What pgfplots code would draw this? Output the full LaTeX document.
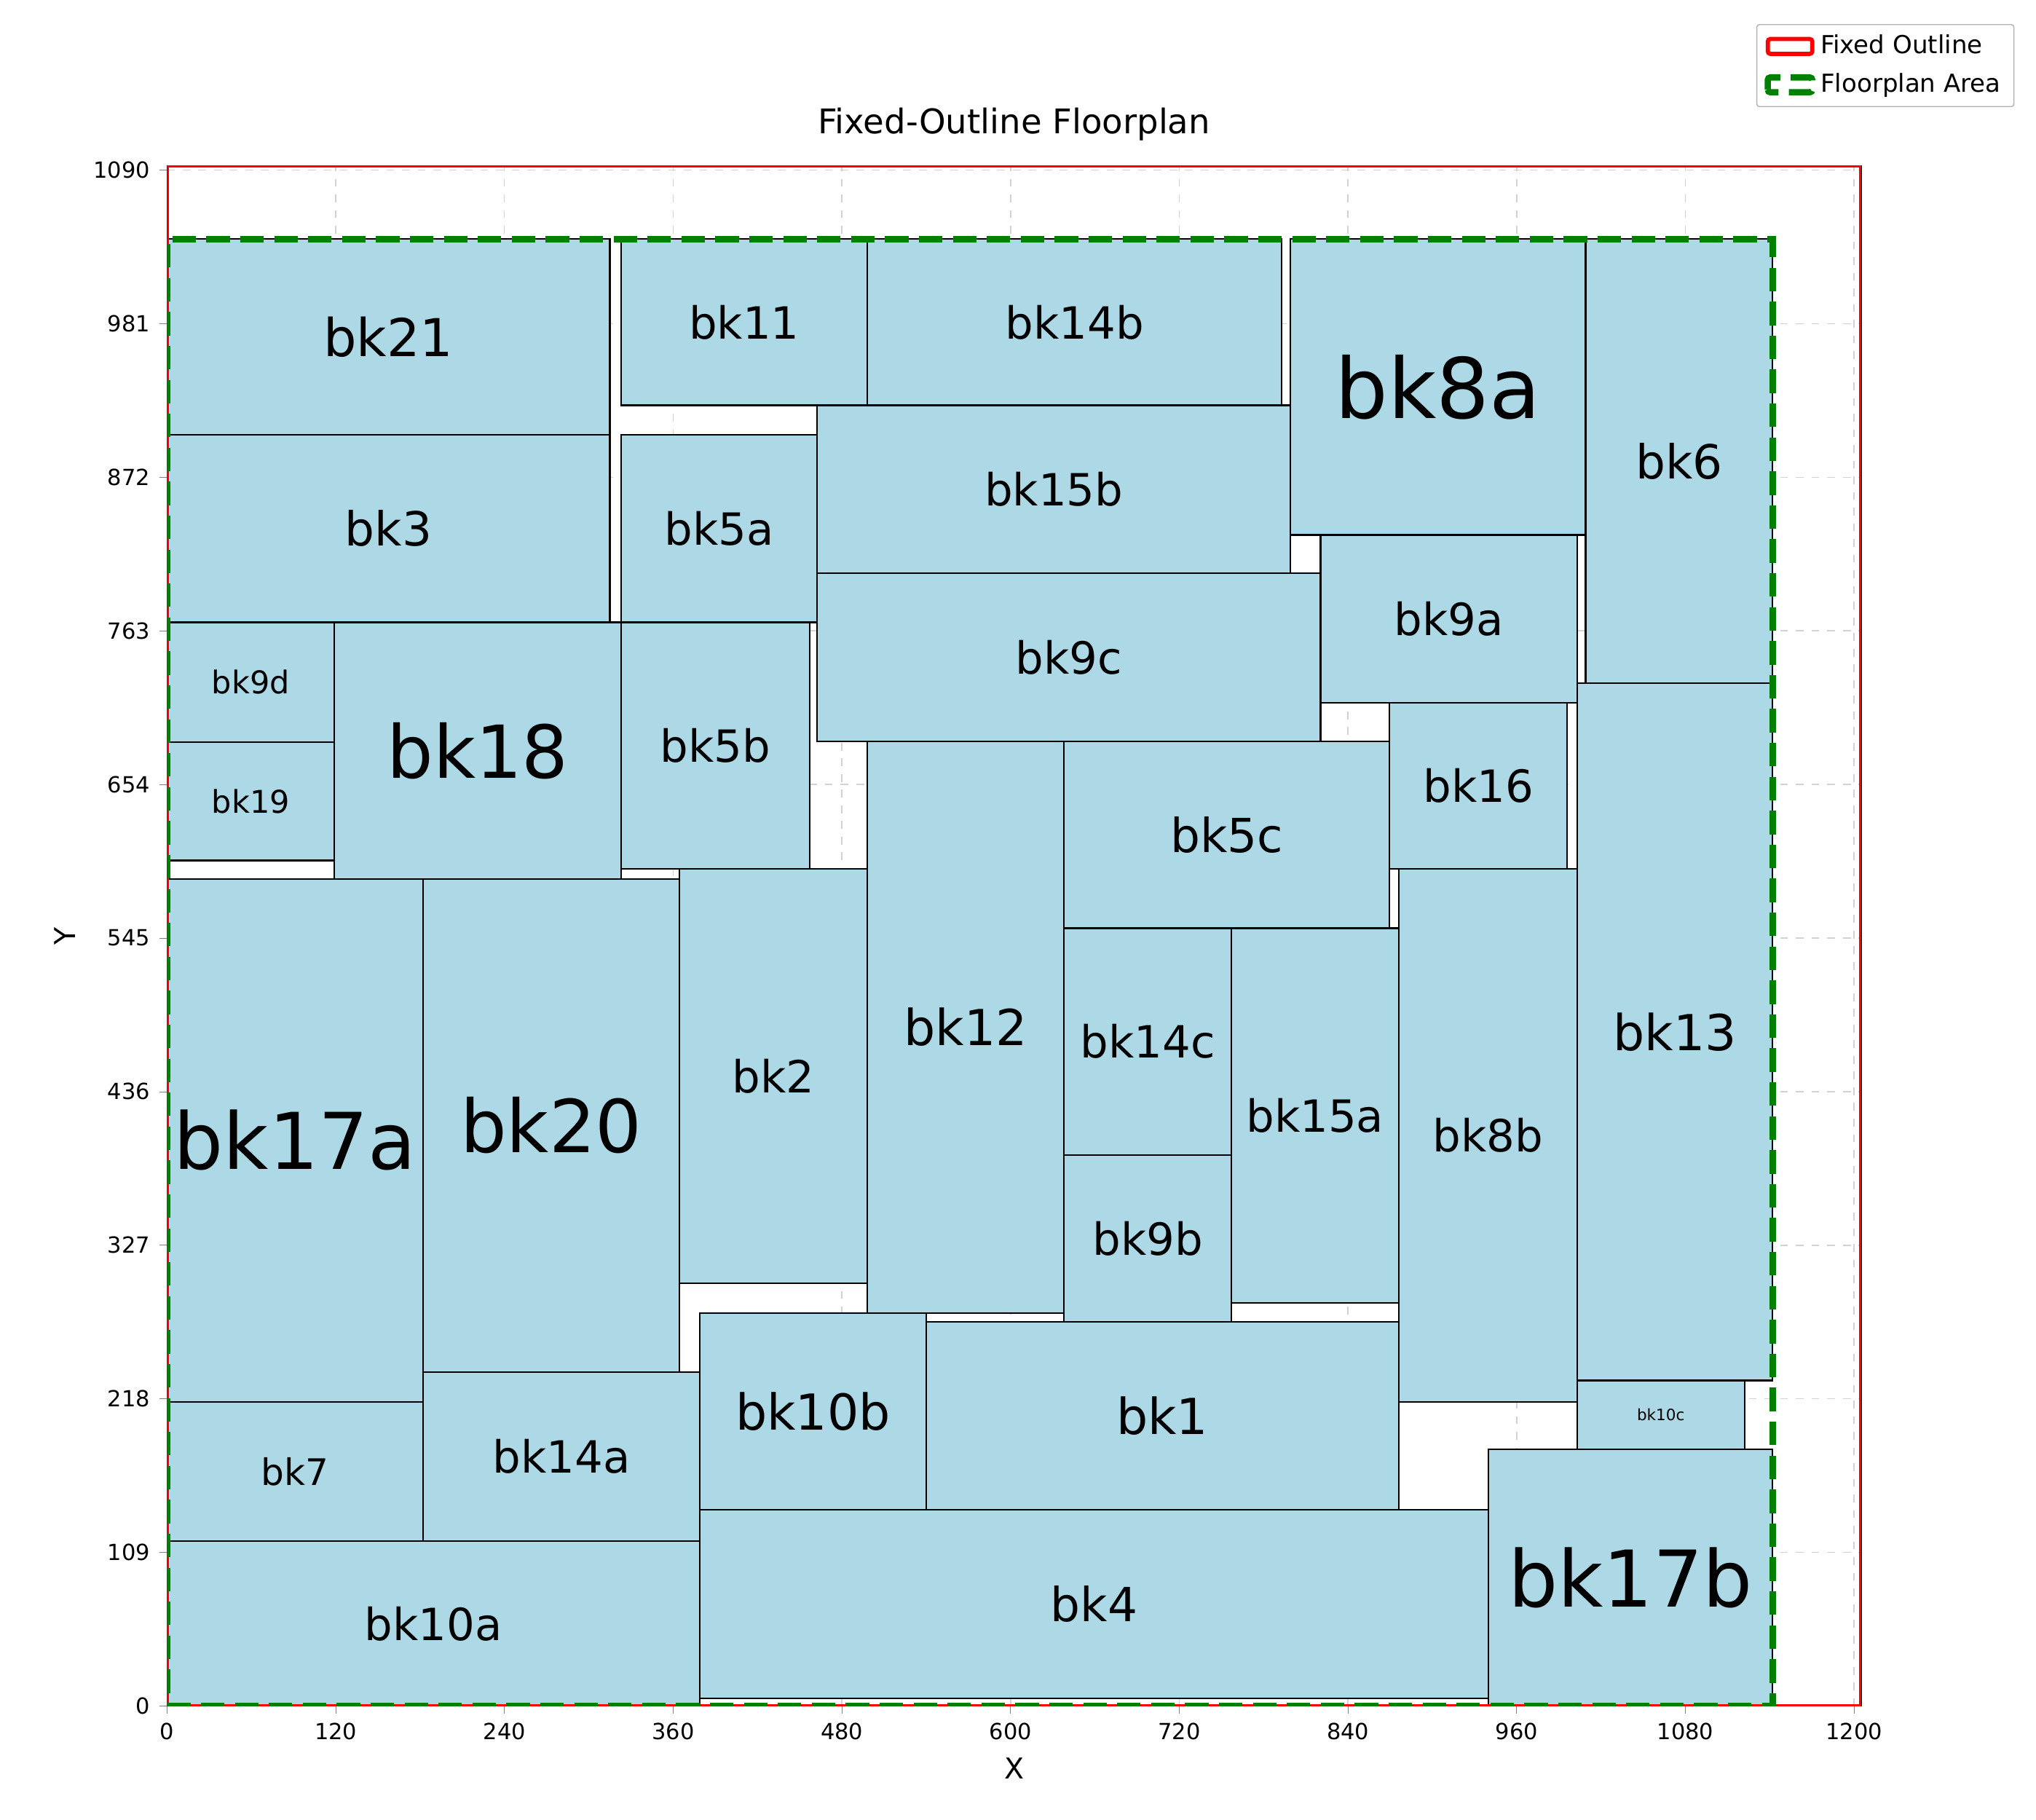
\documentclass[border=0pt]{standalone}
\usepackage{fontspec}
\setmainfont{DejaVu Sans}
\usepackage{pgfplots}
\pgfplotsset{compat=1.18}
\definecolor{lb}{HTML}{ADD8E6}
\definecolor{gg}{HTML}{008000}
\newcommand{\blk}[6]{%
\addplot[draw=black,fill=lb,line width=0.6pt,forget plot] coordinates {(#1,#2)(#3,#2)(#3,#4)(#1,#4)} --cycle;
\node[font=\fontsize{#6}{#6}\selectfont] at (axis cs:{(#1+#3)/2},{(#2+#4)/2}) {#5};
}
\begin{document}
\begin{tikzpicture}
\path[use as bounding box] (-64pt,-43.5pt) rectangle (716pt,653.5pt);
\begin{axis}[scale only axis,width=649pt,height=590pt,
 xmin=0,xmax=1205,ymin=0,ymax=1093,
 xtick={0,120,...,1200},ytick={0,109,218,327,436,545,654,763,872,981,1090},
 /pgf/number format/assume math mode=true,
 /pgf/number format/1000 sep={},
 tick align=outside,tick pos=left,major tick length=3pt,
 tick label style={font=\fontsize{8.5}{8.5}\selectfont},
 label style={font=\fontsize{11}{11}\selectfont},
 title style={font=\fontsize{13}{13}\selectfont},
 title={Fixed-Outline Floorplan},xlabel={X},ylabel={Y},
 grid=major,grid style={dashed,gray!35},
 legend image code/.code={\draw[#1] (0cm,-0.1cm) rectangle (0.55cm,0.1cm);},
 legend style={at={(rel axis cs:1.0905,1.092)},anchor=north east,font=\fontsize{9.5}{11}\selectfont,draw=gray!60,rounded corners=1pt,row sep=2pt},
 legend cell align=left]
\blk{0}{902}{315}{1041}{bk21}{20}
\blk{0}{769}{315}{902}{bk3}{18}
\blk{0}{684}{119}{769}{bk9d}{12}
\blk{0}{600}{119}{684}{bk19}{12}
\blk{119}{587}{323}{769}{bk18}{28}
\blk{0}{216}{182}{587}{bk17a}{30}
\blk{0}{117}{182}{216}{bk7}{14}
\blk{0}{0}{379}{117}{bk10a}{17}
\blk{182}{237}{364.5}{587}{bk20}{28}
\blk{182}{117}{379}{237}{bk14a}{17}
\blk{364.5}{300}{498}{594}{bk2}{17}
\blk{323}{594}{457}{769}{bk5b}{17}
\blk{323}{769}{462.5}{902}{bk5a}{17}
\blk{323}{923}{498}{1041}{bk11}{17}
\blk{498}{923}{793}{1041}{bk14b}{17}
\blk{462.5}{804}{799}{923}{bk15b}{17}
\blk{462.5}{684.5}{820.5}{804}{bk9c}{17}
\blk{799}{831}{1009}{1041}{bk8a}{32}
\blk{820.5}{712}{1003}{831}{bk9a}{17}
\blk{1009}{726}{1142}{1041}{bk6}{18}
\blk{869.5}{594}{996}{712}{bk16}{17}
\blk{1003}{231}{1142}{726}{bk13}{19}
\blk{1003}{182}{1122}{231}{bk10c}{6}
\blk{940}{0}{1142}{182}{bk17b}{30}
\blk{876}{216}{1003}{594}{bk8b}{17}
\blk{638}{552}{869.5}{684.5}{bk5c}{18}
\blk{498}{279}{638}{684.5}{bk12}{19}
\blk{638}{391}{757}{552}{bk14c}{17}
\blk{638}{272.5}{757}{391}{bk9b}{17}
\blk{757}{286}{876}{552}{bk15a}{17}
\blk{540}{139.5}{876}{272.5}{bk1}{19}
\blk{379}{139.5}{540}{279}{bk10b}{19}
\blk{379}{5.5}{940}{139.5}{bk4}{18}
\addplot[draw=red,line width=1.6pt,fill=none,area legend] coordinates {(0,0)(1205,0)(1205,1093)(0,1093)} --cycle;
\addlegendentry{Fixed Outline}
\addplot[draw=gg,line width=2.4pt,dash pattern=on 9pt off 4pt,fill=none,area legend] coordinates {(0,0)(1142,0)(1142,1041)(0,1041)} --cycle;
\addlegendentry{Floorplan Area}
\end{axis}
\end{tikzpicture}
\end{document}
